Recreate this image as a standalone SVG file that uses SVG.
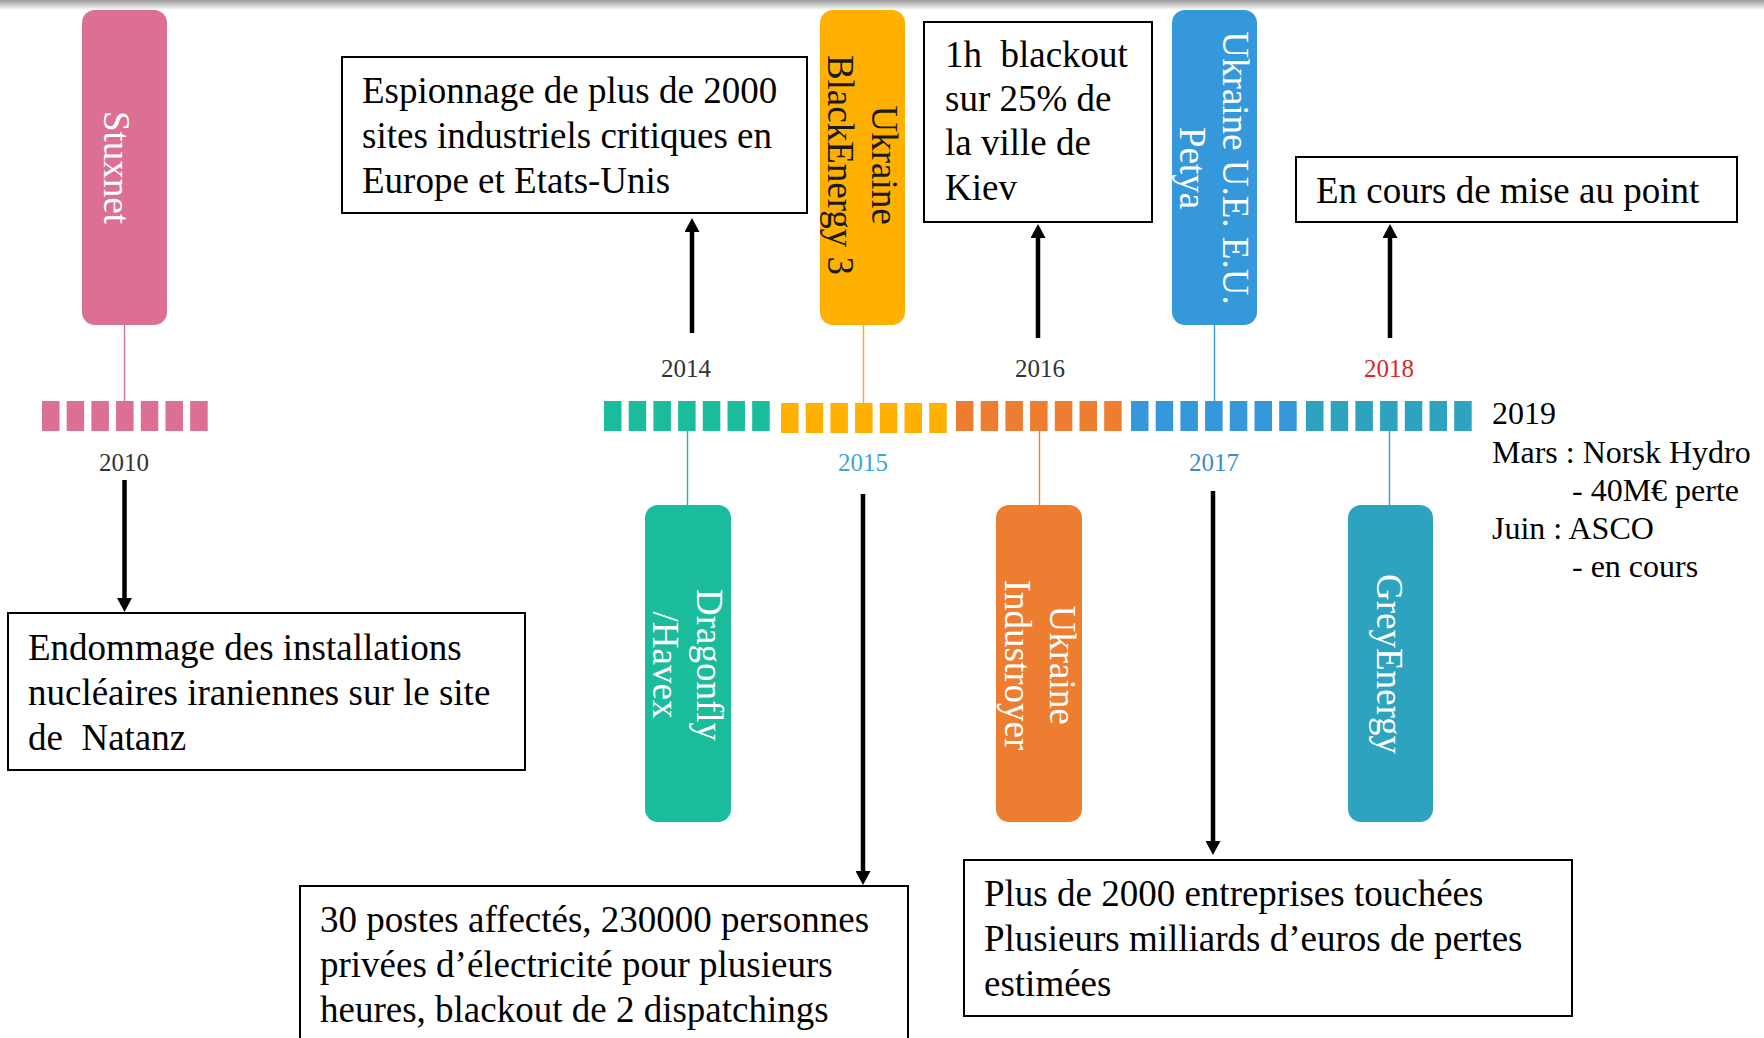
<svg xmlns="http://www.w3.org/2000/svg" xmlns:xlink="http://www.w3.org/1999/xlink" width="1764" height="1038" viewBox="0 0 1764 1038">
<style>
.box{fill:#fff;stroke:#000;stroke-width:2}
.txt{font-family:"Liberation Serif","Times New Roman",serif;font-size:37px;fill:#000}
.side{font-family:"Liberation Serif","Times New Roman",serif;font-size:32px;fill:#000}
.lbl{font-family:"Liberation Serif","Times New Roman",serif;font-size:37px;fill:#fff;text-anchor:middle}
.yr{font-family:"Liberation Serif","Times New Roman",serif;font-size:25px;fill:#333;text-anchor:middle}
.arrow{stroke:#000;stroke-width:4.5;fill:none;marker-end:url(#ah)}
.thin{stroke-width:1.4;fill:none}
</style>
<defs>
<linearGradient id="shadow" x1="0" y1="0" x2="0" y2="1">
<stop offset="0" stop-color="#9a9a9a"/>
<stop offset="1" stop-color="#ffffff"/>
</linearGradient>
<marker id="ah" viewBox="0 0 14 15" refX="2" refY="7.5" markerWidth="14" markerHeight="15" markerUnits="userSpaceOnUse" orient="auto">
<path d="M0,0 L14,7.5 L0,15 z" fill="#000"/>
</marker>
<g id="dash7">
<rect x="0" y="0" width="17.5" height="30"/>
<rect x="24.7" y="0" width="17.5" height="30"/>
<rect x="49.4" y="0" width="17.5" height="30"/>
<rect x="74.1" y="0" width="17.5" height="30"/>
<rect x="98.8" y="0" width="17.5" height="30"/>
<rect x="123.5" y="0" width="17.5" height="30"/>
<rect x="148.2" y="0" width="17.5" height="30"/>
</g>
</defs>
<rect x="0" y="0" width="1764" height="1038" fill="#fff"/>
<rect x="0" y="0" width="1764" height="10" fill="url(#shadow)"/>

<g id="timeline">
<use xlink:href="#dash7" x="42" y="401" fill="#DB7093"/>
<use xlink:href="#dash7" x="604" y="401" fill="#1ABC9C"/>
<use xlink:href="#dash7" x="781" y="403" fill="#FFB000"/>
<use xlink:href="#dash7" x="956" y="401" fill="#ED7D31"/>
<use xlink:href="#dash7" x="1131" y="401" fill="#3498DB"/>
<use xlink:href="#dash7" x="1306" y="401" fill="#2EA3C0"/>
</g>

<g id="years">
<text class="yr" x="124" y="471">2010</text>
<text class="yr" x="686" y="377">2014</text>
<text class="yr" x="863" y="471" style="fill:#3AA8D6">2015</text>
<text class="yr" x="1040" y="377">2016</text>
<text class="yr" x="1214" y="471" style="fill:#3A8ECF">2017</text>
<text class="yr" x="1389" y="377" style="fill:#D42A2A">2018</text>
</g>

<g id="connectors">
<line class="thin" x1="124.5" y1="325" x2="124.5" y2="402" stroke="#DB7093"/>
<line class="thin" x1="863.5" y1="325" x2="863.5" y2="404" stroke="#FFB000"/>
<line class="thin" x1="1214.5" y1="325" x2="1214.5" y2="402" stroke="#3498DB"/>
<line class="thin" x1="687.5" y1="430" x2="687.5" y2="506" stroke="#1ABC9C"/>
<line class="thin" x1="1039.5" y1="430" x2="1039.5" y2="506" stroke="#ED7D31"/>
<line class="thin" x1="1389.5" y1="430" x2="1389.5" y2="506" stroke="#2EA3C0"/>
<line class="arrow" x1="124.5" y1="480" x2="124.5" y2="600"/>
<line class="arrow" x1="692" y1="333" x2="692" y2="230"/>
<line class="arrow" x1="863" y1="494" x2="863" y2="873"/>
<line class="arrow" x1="1038" y1="338" x2="1038" y2="236"/>
<line class="arrow" x1="1213" y1="491" x2="1213" y2="843"/>
<line class="arrow" x1="1390" y1="338" x2="1390" y2="236"/>
</g>

<g id="stuxnet">
<rect x="82" y="10" width="85" height="315" rx="13" fill="#DB7093"/>
<text class="lbl" transform="translate(124.5,167.5) rotate(90)" x="0" y="21">Stuxnet</text>
</g>
<g id="blackenergy">
<rect x="820" y="10" width="85" height="315" rx="13" fill="#FFB000"/>
<text class="lbl" style="fill:#1a1a1a" transform="translate(862.5,165) rotate(90)"><tspan x="0" y="-9.5">Ukraine</tspan><tspan x="0" y="34.5">BlackEnergy 3</tspan></text>
</g>
<g id="petya">
<rect x="1172" y="10" width="85" height="315" rx="13" fill="#3498DB"/>
<text class="lbl" transform="translate(1214.5,168) rotate(90)"><tspan x="0" y="-8.5">Ukraine U.E. E.U.</tspan><tspan x="0" y="34.5">Petya</tspan></text>
</g>
<g id="dragonfly">
<rect x="645" y="505" width="86" height="317" rx="13" fill="#1ABC9C"/>
<text class="lbl" transform="translate(688,665) rotate(90)"><tspan x="0" y="-9">Dragonfly</tspan><tspan x="0" y="35">/Havex</tspan></text>
</g>
<g id="industroyer">
<rect x="996" y="505" width="86" height="317" rx="13" fill="#ED7D31"/>
<text class="lbl" transform="translate(1039,665) rotate(90)"><tspan x="0" y="-11">Ukraine</tspan><tspan x="0" y="34">Industroyer</tspan></text>
</g>
<g id="greyenergy">
<rect x="1348" y="505" width="85" height="317" rx="13" fill="#2EA3C0"/>
<text class="lbl" transform="translate(1390.5,664) rotate(90)" x="0" y="13.5">GreyEnergy</text>
</g>

<g id="note-natanz">
<rect class="box" x="8" y="613" width="517" height="157"/>
<text class="txt" xml:space="preserve"><tspan x="28" y="660">Endommage des installations</tspan><tspan x="28" y="705">nucléaires iraniennes sur le site</tspan><tspan x="28" y="750">de  Natanz</tspan></text>
</g>
<g id="note-espionnage">
<rect class="box" x="342" y="57" width="465" height="156"/>
<text class="txt"><tspan x="362" y="103">Espionnage de plus de 2000</tspan><tspan x="362" y="148">sites industriels critiques en</tspan><tspan x="362" y="193">Europe et Etats-Unis</tspan></text>
</g>
<g id="note-kiev">
<rect class="box" x="924" y="22" width="228" height="200"/>
<text class="txt" xml:space="preserve"><tspan x="945" y="67">1h  blackout</tspan><tspan x="945" y="111">sur 25% de</tspan><tspan x="945" y="155">la ville de</tspan><tspan x="945" y="200">Kiev</tspan></text>
</g>
<g id="note-encours">
<rect class="box" x="1296" y="157" width="441" height="65"/>
<text class="txt" x="1316" y="203">En cours de mise au point</text>
</g>
<g id="note-postes">
<rect class="box" x="300" y="886" width="608" height="170"/>
<text class="txt"><tspan x="320" y="932">30 postes affectés, 230000 personnes</tspan><tspan x="320" y="977">privées d’électricité pour plusieurs</tspan><tspan x="320" y="1022">heures, blackout de 2 dispatchings</tspan></text>
</g>
<g id="note-entreprises">
<rect class="box" x="964" y="860" width="608" height="156"/>
<text class="txt"><tspan x="984" y="906">Plus de 2000 entreprises touchées</tspan><tspan x="984" y="951">Plusieurs milliards d’euros de pertes</tspan><tspan x="984" y="996">estimées</tspan></text>
</g>
<g id="note-2019">
<text class="side"><tspan x="1492" y="424">2019</tspan><tspan x="1492" y="463">Mars : Norsk Hydro</tspan><tspan x="1572" y="501">- 40M€ perte</tspan><tspan x="1492" y="539">Juin : ASCO</tspan><tspan x="1572" y="577">- en cours</tspan></text>
</g>
</svg>
